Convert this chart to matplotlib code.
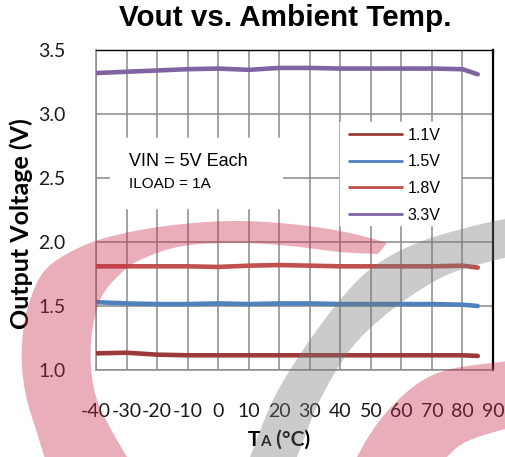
import numpy as np
import matplotlib
matplotlib.use("Agg")
import matplotlib.pyplot as plt
from matplotlib.patches import Polygon, Rectangle
from matplotlib.offsetbox import TextArea, HPacker, AnchoredOffsetbox

plt.rcParams["axes.unicode_minus"] = False

W, H = 506, 457

# data
temps = [-40, -30, -20, -10, 0, 10, 20, 30, 40, 50, 60, 70, 80, 85]
v11 = [1.13, 1.135, 1.12, 1.115, 1.115, 1.115, 1.115, 1.115, 1.115, 1.115, 1.115, 1.115, 1.115, 1.11]
v15 = [1.53, 1.52, 1.515, 1.515, 1.52, 1.515, 1.52, 1.52, 1.515, 1.515, 1.515, 1.515, 1.51, 1.50]
v18 = [1.81, 1.81, 1.81, 1.81, 1.805, 1.815, 1.82, 1.815, 1.81, 1.81, 1.81, 1.81, 1.815, 1.80]
v33 = [3.32, 3.33, 3.34, 3.35, 3.355, 3.345, 3.36, 3.36, 3.355, 3.355, 3.355, 3.355, 3.35, 3.31]
labels = ["1.1V", "1.5V", "1.8V", "3.3V"]
colors = ["#9c3a3a", "#4f81bd", "#c0504d", "#8064a2"]
xticks = list(range(-40, 91, 10))
yticks = [1.0, 1.5, 2.0, 2.5, 3.0, 3.5]


def fx(px):
    return px / W


def fy(py):
    return 1 - py / H


def smooth(pts, n=12):
    # catmull-rom through the outline points of a watermark edge
    p = np.array(pts, dtype=float)
    p = np.vstack([p[0], p, p[-1]])
    out = []
    for i in range(1, len(p) - 2):
        p0, p1, p2, p3 = p[i - 1], p[i], p[i + 1], p[i + 2]
        for t in np.linspace(0, 1, n, endpoint=False):
            out.append(0.5 * (2 * p1 + (-p0 + p2) * t
                              + (2 * p0 - 5 * p1 + 4 * p2 - p3) * t ** 2
                              + (-p0 + 3 * p1 - 3 * p2 + p3) * t ** 3))
    out.append(p[-2])
    return [tuple(q) for q in out]


fig = plt.figure(figsize=(W / 100, H / 100), dpi=100)
ax = fig.add_axes([fx(96), fy(370), (493 - 96) / W, (370 - 50) / H])

for vals, lab, col in zip([v11, v15, v18, v33], labels, colors):
    ax.plot(temps, vals, color=col, lw=3.3, solid_capstyle="round",
            label=lab, zorder=3)

ax.set_xlim(-40, 90)
ax.set_ylim(1.0, 3.5)
ax.set_xticks(xticks)
ax.set_yticks(yticks)
ax.set_yticklabels([f"{v:.1f}" for v in yticks])
ax.grid(True, color="#8a8a8a", lw=1.1)
ax.set_axisbelow(True)
ax.tick_params(length=0, labelsize=14)
ax.tick_params(axis="y", pad=22)
ax.tick_params(axis="x", pad=24)
for t in ax.get_xticklabels() + ax.get_yticklabels():
    t.set_fontfamily("Lato")
    t.set_color("#1a1a1a")

for s in ["left", "bottom"]:
    ax.spines[s].set_color("#8a8a8a")
    ax.spines[s].set_linewidth(1.1)
ax.spines["top"].set_color("black")
ax.spines["top"].set_linewidth(1.0)
ax.spines["right"].set_color("black")
ax.spines["right"].set_linewidth(1.6)

# white boxes behind the note and the legend hide the grid
ax.add_patch(Rectangle((fx(110), fy(208)), (282 - 110) / W, (208 - 138) / H,
                       transform=fig.transFigure, color="white", zorder=1))
ax.add_patch(Rectangle((fx(340), fy(225)), (460 - 340) / W, (225 - 122) / H,
                       transform=fig.transFigure, color="white", zorder=1))

leg = ax.legend(loc="upper left", bbox_to_anchor=(fx(349), fy(128)),
                bbox_transform=fig.transFigure, frameon=False,
                prop={"family": "Liberation Sans", "size": 11.5},
                handlelength=3.3, handletextpad=0.35, labelspacing=0.72,
                borderpad=0, borderaxespad=0)
for h in leg.legend_handles:
    h.set_linewidth(2.0)

fig.text(fx(129), fy(162), "VIN = 5V Each", va="center", ha="left",
         family="Liberation Sans", fontsize=13)
fig.text(fx(129), fy(184), "ILOAD = 1A", va="center", ha="left",
         family="Liberation Sans", fontsize=11)

fig.text(fx(285), fy(18), "Vout vs. Ambient Temp.", ha="center", va="center",
         family="Liberation Sans", weight="bold", fontsize=21.3)
fig.text(fx(21), fy(224), "Output Voltage (V)", rotation=90, ha="center",
         va="center", family="Lato", weight="bold", fontsize=18)

xl = HPacker(children=[
    TextArea("T", textprops=dict(family="Lato", weight="bold", size=15)),
    TextArea("A", textprops=dict(family="Lato", weight="bold", size=11)),
    TextArea(" (°C)", textprops=dict(family="Lato", weight="bold", size=15)),
], align="baseline", pad=0, sep=0)
fig.add_artist(AnchoredOffsetbox(loc="center", child=xl, pad=0, borderpad=0,
                                 frameon=False,
                                 bbox_to_anchor=(fx(279), fy(440)),
                                 bbox_transform=fig.transFigure))

# watermark swooshes laid over the chart (outer edge, then inner edge back)
pink_outer = [(50, 475), (37, 433), (27, 400), (22, 367), (23, 333), (30, 300),
              (47, 268), (85, 245), (130, 232), (183, 224), (240, 221),
              (300, 225), (350, 233), (387, 243)]
pink_inner = [(378, 254), (340, 252), (290, 246), (240, 243), (183, 246),
              (140, 260), (117, 277), (100, 300), (92, 333), (91, 367),
              (97, 400), (113, 433), (138, 475)]
gray_outer = [(243, 475), (250, 457), (273, 400), (303, 350), (340, 300),
              (373, 267), (417, 243), (473, 226), (520, 216)]
gray_inner = [(520, 254), (457, 271), (420, 290), (383, 317), (350, 350),
              (320, 400), (297, 457), (290, 475)]
pinkr_outer = [(350, 475), (357, 457), (380, 420), (413, 387), (447, 370),
               (500, 362), (520, 360)]
pinkr_inner = [(520, 425), (470, 440), (447, 457), (437, 475)]

for outer, inner, col in [(pink_outer, pink_inner, "#c8284a"),
                          (gray_outer, gray_inner, "#787878"),
                          (pinkr_outer, pinkr_inner, "#c8284a")]:
    pts = smooth(outer) + smooth(inner)
    fig.add_artist(Polygon([(fx(a), fy(b)) for a, b in pts], closed=True,
                           transform=fig.transFigure, facecolor=col,
                           edgecolor="none", alpha=0.38, zorder=5))

fig.savefig("out.png", dpi=100)
